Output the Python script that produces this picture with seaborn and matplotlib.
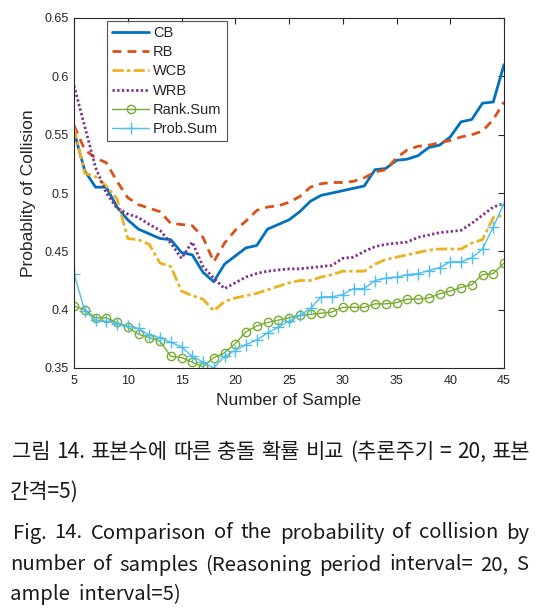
import numpy as np
import pandas as pd
import matplotlib
matplotlib.use("Agg")
import matplotlib.pyplot as plt
import seaborn as sns

samples = list(range(5, 46))
cb = [0.553, 0.519, 0.505, 0.505, 0.488, 0.477, 0.469, 0.465, 0.461, 0.460,
      0.449, 0.447, 0.432, 0.424, 0.439, 0.446, 0.453, 0.455, 0.469, 0.473,
      0.477, 0.484, 0.493, 0.498, 0.500, 0.502, 0.504, 0.506, 0.520, 0.521,
      0.528, 0.529, 0.532, 0.539, 0.541, 0.548, 0.561, 0.563, 0.577, 0.578,
      0.610]
rb = [0.558, 0.537, 0.530, 0.526, 0.510, 0.496, 0.490, 0.487, 0.484, 0.474,
      0.473, 0.472, 0.462, 0.441, 0.457, 0.468, 0.476, 0.485, 0.488, 0.489,
      0.492, 0.497, 0.505, 0.508, 0.509, 0.509, 0.510, 0.513, 0.518, 0.520,
      0.530, 0.537, 0.540, 0.541, 0.543, 0.545, 0.548, 0.550, 0.553, 0.563,
      0.578]
wcb = [0.556, 0.517, 0.514, 0.506, 0.495, 0.461, 0.460, 0.456, 0.440, 0.437,
       0.416, 0.412, 0.409, 0.399, 0.407, 0.410, 0.412, 0.414, 0.417, 0.420,
       0.423, 0.425, 0.425, 0.428, 0.430, 0.433, 0.433, 0.433, 0.439, 0.443,
       0.445, 0.447, 0.449, 0.451, 0.452, 0.452, 0.452, 0.457, 0.460, 0.479,
       0.481]
wrb = [0.592, 0.557, 0.522, 0.500, 0.487, 0.482, 0.479, 0.473, 0.468, 0.457,
       0.444, 0.458, 0.437, 0.427, 0.418, 0.423, 0.428, 0.431, 0.433, 0.434,
       0.435, 0.435, 0.436, 0.437, 0.438, 0.444, 0.445, 0.450, 0.454, 0.456,
       0.457, 0.458, 0.462, 0.464, 0.466, 0.467, 0.468, 0.474, 0.481, 0.488,
       0.491]
rank_sum = [0.403, 0.400, 0.393, 0.393, 0.389, 0.385, 0.379, 0.376, 0.373, 0.360,
            0.359, 0.355, 0.351, 0.359, 0.363, 0.371, 0.381, 0.386, 0.389, 0.391,
            0.393, 0.395, 0.396, 0.397, 0.398, 0.402, 0.402, 0.402, 0.405, 0.405,
            0.406, 0.409, 0.409, 0.410, 0.4135, 0.416, 0.419, 0.4215, 0.430, 0.431,
            0.440]
prob_sum = [0.431, 0.399, 0.391, 0.390, 0.388, 0.386, 0.384, 0.378, 0.376, 0.372,
            0.368, 0.360, 0.355, 0.350, 0.360, 0.365, 0.370, 0.374, 0.380, 0.385,
            0.390, 0.395, 0.401, 0.411, 0.411, 0.413, 0.418, 0.418, 0.425, 0.427,
            0.428, 0.430, 0.431, 0.4335, 0.436, 0.441, 0.441, 0.4445, 0.452, 0.471,
            0.491]

series_names = ["CB", "RB", "WCB", "WRB", "Rank.Sum", "Prob.Sum"]
series_values = [cb, rb, wcb, wrb, rank_sum, prob_sum]
x_ticks = [5, 10, 15, 20, 25, 30, 35, 40, 45]
y_ticks = [0.35, 0.40, 0.45, 0.50, 0.55, 0.60, 0.65]
y_tick_labels = ["0.35", "0.4", "0.45", "0.5", "0.55", "0.6", "0.65"]

caption_lines = [
    "그림 14. 표본수에 따른 충돌 확률 비교 (추론주기 = 20, 표본",
    "간격=5)",
    "Fig. 14. Comparison of the probability of collision by",
    "number of samples (Reasoning period interval= 20, S",
    "ample  interval=5)",
]

sns.set_style("white")
plt.rcParams["font.family"] = ["Liberation Sans", "DejaVu Sans"]

styles = {
    "CB": dict(color="#0072BD", linestyle="-", linewidth=2.0),
    "RB": dict(color="#D95319", linestyle=(0, (3.2, 2.2)), linewidth=2.0),
    "WCB": dict(color="#EDB120", linestyle=(0, (4, 1.2, 1.2, 1.2)), linewidth=2.0),
    "WRB": dict(color="#7E2F8E", linestyle=(0, (0.8, 0.9)), linewidth=2.0),
    "Rank.Sum": dict(color="#77AC30", linestyle="-", linewidth=1.0, marker="o",
                     markersize=6, markerfacecolor="none", markeredgewidth=1.0),
    "Prob.Sum": dict(color="#4DBEEE", linestyle="-", linewidth=1.0, marker="+",
                     markersize=8, markeredgewidth=1.0),
}

fig = plt.figure(figsize=(5.4, 6.11), dpi=100)
ax = fig.add_axes([74 / 540, 1 - 368 / 611, 430 / 540, 350 / 611])

for name, vals in zip(series_names, series_values):
    df = pd.DataFrame({"x": samples, "y": vals})
    st = styles[name]
    sns.lineplot(data=df, x="x", y="y", ax=ax, label=name, color=st["color"])
    ln = ax.lines[-1]
    ln.set_linestyle(st["linestyle"])
    ln.set_linewidth(st["linewidth"])
    if "marker" in st:
        ln.set_marker(st["marker"])
        ln.set_markersize(st["markersize"])
        ln.set_markeredgewidth(st["markeredgewidth"])
        ln.set_markeredgecolor(st["color"])
        ln.set_markerfacecolor(st.get("markerfacecolor", st["color"]))

ax.set_xlim(5, 45)
ax.set_ylim(0.35, 0.65)
ax.set_xticks(x_ticks)
ax.set_yticks(y_ticks)
ax.set_yticklabels(y_tick_labels)
ax.tick_params(direction="in", length=4, width=0.8, top=True, right=True,
               labelsize=9, colors="#262626", pad=4)
ax.tick_params(axis="x", pad=5)
for sp in ax.spines.values():
    sp.set_visible(True)
    sp.set_color("#262626")
    sp.set_linewidth(0.8)
ax.set_xlabel("Number of Sample", fontsize=12.5, color="#262626", labelpad=4)
ax.set_ylabel("Probablity of Collision", fontsize=12.5, color="#262626", labelpad=6)

leg = ax.legend(loc="upper left", bbox_to_anchor=(0.077, 0.992), fontsize=10.5,
                frameon=True, fancybox=False, handlelength=2.55, handletextpad=0.25,
                labelspacing=0.36, borderpad=0.35, borderaxespad=0.0)
leg.get_frame().set_edgecolor("#262626")
leg.get_frame().set_linewidth(0.8)
for t in leg.get_texts():
    t.set_color("#262626")

# caption
cap_family = ["Noto Sans CJK KR", "DejaVu Sans"]
W = 540.0
renderer = fig.canvas.get_renderer()


def fit_size(text, width_px, base=14.0):
    t = fig.text(0, 0, text, fontsize=base, family=cap_family)
    w = t.get_window_extent(renderer).width
    t.remove()
    return base * width_px / w


def put_line(text, y_px, x0_px, size, x1_px=None):
    words = text.split(" ") if x1_px is not None else [text]
    objs = [fig.text(0, 1 - y_px / 611, w, fontsize=size, family=cap_family,
                     color="#1a1a1a", va="center", ha="left") for w in words]
    if x1_px is None:
        objs[0].set_x(x0_px / W)
        return
    widths = [o.get_window_extent(renderer).width for o in objs]
    gap = ((x1_px - x0_px) - sum(widths)) / max(len(words) - 1, 1)
    x = x0_px
    for o, w in zip(objs, widths):
        o.set_x(x / W)
        x += w + gap


ks = min(fit_size(caption_lines[0], 510), 16.0)
es = min(fit_size(caption_lines[2], 490), 16.0)
put_line(caption_lines[0], 452, 12, ks, 530)
put_line(caption_lines[1], 492, 10, ks)
put_line(caption_lines[2], 533, 13, es, 529)
put_line(caption_lines[3], 565, 10, es, 528)
put_line(caption_lines[4], 594, 10, es)

fig.savefig("out.png", dpi=100)
